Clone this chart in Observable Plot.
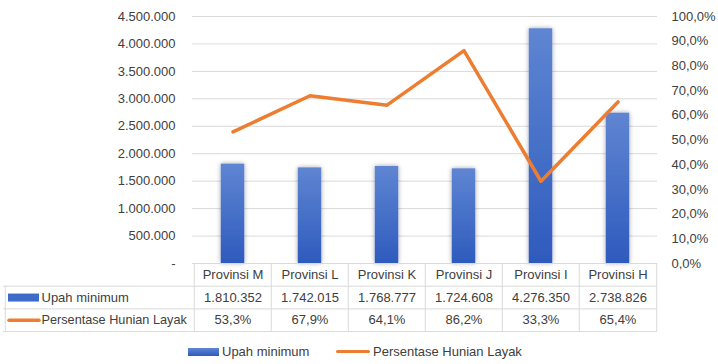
<!DOCTYPE html>
<html>
<head>
<meta charset="utf-8">
<script src="https://cdn.jsdelivr.net/npm/d3@7"></script>
<script src="https://cdn.jsdelivr.net/npm/@observablehq/plot@0.6"></script>
<style>
  html, body { margin: 0; padding: 0; background: #fff; }
  body { width: 718px; height: 364px; overflow: hidden; font-family: "Liberation Sans", Arial, sans-serif; font-size: 13px; color: #404040; }
  #legend { position: relative; width: 718px; height: 24px; }
  #legend .item { position: absolute; top: 4px; white-space: nowrap; }
</style>
</head>
<body>
<div id="chart"></div>
<div id="legend"></div>
<script>
const categories = ["Provinsi M", "Provinsi L", "Provinsi K", "Provinsi J", "Provinsi I", "Provinsi H"];
const upahMinimum = [1810352, 1742015, 1768777, 1724608, 4276350, 2738826];
const persentaseHunian = [53.3, 67.9, 64.1, 86.2, 33.3, 65.4];
const leftTicks = [0, 500000, 1000000, 1500000, 2000000, 2500000, 3000000, 3500000, 4000000, 4500000];
const rightTicks = [0, 10, 20, 30, 40, 50, 60, 70, 80, 90, 100];
const seriesNames = ["Upah minimum", "Persentase Hunian Layak"];

const BLUE = "#3f6bc8";
const ORANGE = "#ed7d31";
const GRID = "#d9d9d9";
const TEXT = "#404040";
const YMAX = 4500000;
const K = YMAX / 100;

const locale = d3.formatLocale({decimal: ",", thousands: ".", grouping: [3], currency: ["", ""]});
const fmtInt = locale.format(",d");
const fmtPct = locale.format(".1f");

const table = categories.map((c, i) => ({cat: c, upah: upahMinimum[i], pct: persentaseHunian[i]}));

const W = 718, H = 340, mL = 192, mR = 61, mT = 16, mB = 77;
const band = (W - mL - mR) / categories.length;
const barW = 24;
const rowH = 22.7;

const cellText = (text, row) => ({x: "cat", text, frameAnchor: "bottom", lineAnchor: "middle", dy: rowH * (row + 0.5), fill: TEXT});

const plot = Plot.plot({
  width: W, height: H,
  marginLeft: mL, marginRight: mR, marginTop: mT, marginBottom: mB,
  style: {fontFamily: "Liberation Sans, Arial, sans-serif", fontSize: "13px", color: TEXT, background: "#fff", overflow: "visible"},
  x: {domain: categories, padding: 0, axis: null},
  y: {domain: [0, YMAX], axis: null},
  marks: [
    Plot.gridY(leftTicks.filter(d => d > 0), {stroke: GRID, strokeOpacity: 1, strokeWidth: 1}),
    Plot.axisY({anchor: "left", label: null, ticks: leftTicks, tickSize: 0, tickPadding: 17, tickFormat: d => d === 0 ? "-" : fmtInt(d)}),
    Plot.axisY({anchor: "right", label: null, ticks: rightTicks.map(d => d * K), tickSize: 0, tickPadding: 14, tickFormat: d => fmtPct(d / K) + "%"}),
    Plot.barY(table, {x: "cat", y: "upah", fill: "url(#barGrad)", insetLeft: (band - barW) / 2, insetRight: (band - barW) / 2}),
    Plot.line(table, {x: "cat", y: d => d.pct * K, stroke: ORANGE, strokeWidth: 3.5, strokeLinejoin: "round", strokeLinecap: "round"}),
    // table horizontal borders
    Plot.ruleY([0], {stroke: GRID, strokeWidth: 1}),
    ...[1, 2, 3].map(r => Plot.ruleY([0], {stroke: GRID, strokeWidth: 1, dy: r * rowH, insetLeft: -(mL - 3)})),
    // table vertical borders
    Plot.ruleX(table, {x: "cat", dx: -band / 2, stroke: GRID, strokeWidth: 1, insetTop: H - mT - mB, insetBottom: -3 * rowH}),
    Plot.ruleX([categories[categories.length - 1]], {dx: band / 2, stroke: GRID, strokeWidth: 1, insetTop: H - mT - mB, insetBottom: -3 * rowH}),
    Plot.ruleX([categories[0]], {dx: -mL + 3 - band / 2, stroke: GRID, strokeWidth: 1, insetTop: H - mT - mB + rowH, insetBottom: -3 * rowH}),
    // table text
    Plot.text(table, cellText("cat", 0)),
    Plot.text(table, cellText(d => fmtInt(d.upah), 1)),
    Plot.text(table, cellText(d => fmtPct(d.pct) + "%", 2)),
    // row legend keys
    Plot.ruleY([0], {dy: rowH * 1.5, stroke: BLUE, strokeWidth: 8, insetLeft: -(mL - 8), insetRight: (W - mR) - 39}),
    Plot.ruleY([0], {dy: rowH * 2.5, stroke: ORANGE, strokeWidth: 3.5, strokeLinecap: "round", insetLeft: -(mL - 9), insetRight: (W - mR) - 39}),
    Plot.text([seriesNames[0]], {frameAnchor: "bottom-left", lineAnchor: "middle", text: d => d, dx: -(mL - 41), dy: rowH * 1.5, textAnchor: "start", fill: TEXT}),
    Plot.text([seriesNames[1]], {frameAnchor: "bottom-left", lineAnchor: "middle", text: d => d, dx: -(mL - 41), dy: rowH * 2.5, textAnchor: "start", fill: TEXT, fontSize: 12.7})
  ]
});

const svg = d3.select(plot);
const defs = svg.insert("defs", ":first-child");
const grad = defs.append("linearGradient").attr("id", "barGrad").attr("x1", 0).attr("y1", 0).attr("x2", 0).attr("y2", 1);
grad.append("stop").attr("offset", "0%").attr("stop-color", "#5f85d2");
grad.append("stop").attr("offset", "100%").attr("stop-color", "#2e5bbd");
const filt = defs.append("filter").attr("id", "barShadow").attr("x", "-50%").attr("y", "-10%").attr("width", "200%").attr("height", "120%");
filt.append("feGaussianBlur").attr("in", "SourceAlpha").attr("stdDeviation", 2.5).attr("result", "b");
filt.append("feComponentTransfer").attr("in", "b").attr("result", "c").append("feFuncA").attr("type", "linear").attr("slope", 0.35);
const merge = filt.append("feMerge");
merge.append("feMergeNode").attr("in", "c");
merge.append("feMergeNode").attr("in", "SourceGraphic");
svg.selectAll('g[aria-label="bar"]').attr("filter", "url(#barShadow)");

document.getElementById("chart").appendChild(plot);

const legend = d3.select("#legend");
const i1 = legend.append("div").attr("class", "item").style("left", "188px");
i1.append("span").style("display", "inline-block").style("width", "31px").style("height", "8px").style("background", "linear-gradient(#5f85d2,#2e5bbd)").style("vertical-align", "middle").style("margin-right", "3px").style("position", "relative").style("top", "-1px");
i1.append("span").text(seriesNames[0]);
const i2 = legend.append("div").attr("class", "item").style("left", "336px");
i2.append("span").style("display", "inline-block").style("width", "34px").style("height", "3.5px").style("border-radius", "2px").style("background", ORANGE).style("vertical-align", "middle").style("margin-right", "3px").style("position", "relative").style("top", "-1px");
i2.append("span").text(seriesNames[1]);
</script>
</body>
</html>
